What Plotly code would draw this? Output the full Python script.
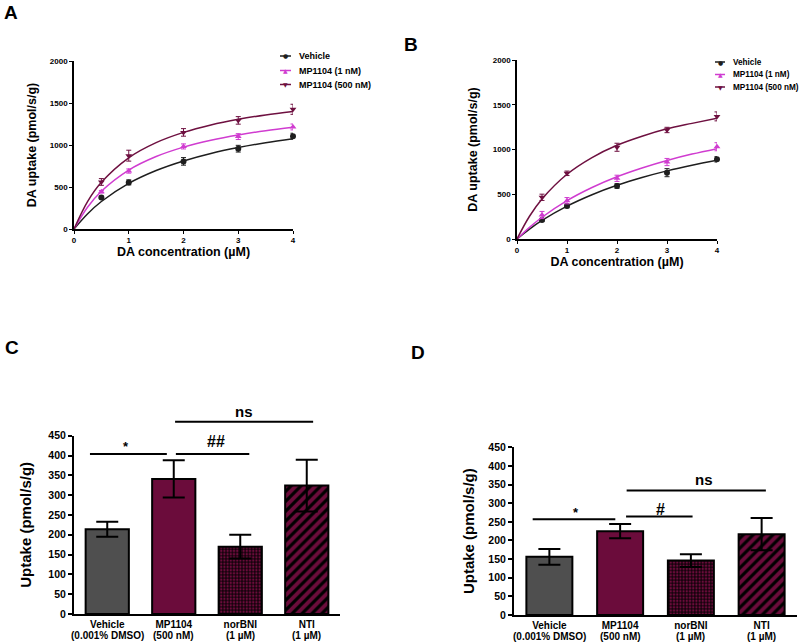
import plotly.graph_objects as go

# ---------------- data ----------------
conc = [0.5, 1, 2, 3, 4]
fit_conc = [0, 0.25, 0.5, 1, 1.5, 2, 2.5, 3, 3.5, 4]
series_names = ["Vehicle", "MP1104 (1 nM)", "MP1104 (500 nM)"]

# Panel A
a_vehicle = [376, 555, 805, 956, 1105]
a_vehicle_err = [15, 30, 45, 40, 35]
a_1nm = [444, 690, 983, 1100, 1215]
a_1nm_err = [15, 25, 30, 35, 35]
a_500nm = [560, 873, 1150, 1293, 1425]
a_500nm_err = [40, 65, 45, 45, 60]
a_vehicle_fit = [0, 182, 327, 543, 696, 810, 899, 969, 1027, 1075]
a_1nm_fit = [0, 262, 450, 702, 863, 975, 1057, 1120, 1170, 1210]
a_500nm_fit = [0, 329, 556, 848, 1028, 1150, 1239, 1306, 1358, 1400]

# Panel B
b_vehicle = [212, 369, 592, 741, 890]
b_vehicle_err = [15, 20, 25, 45, 30]
b_1nm = [268, 428, 678, 860, 1031]
b_1nm_err = [40, 35, 35, 40, 45]
b_500nm = [466, 734, 1025, 1218, 1370]
b_500nm_err = [35, 25, 45, 30, 50]
b_vehicle_fit = [0, 110, 207, 367, 495, 600, 687, 761, 824, 879]
b_1nm_fit = [0, 130, 243, 429, 576, 696, 794, 878, 949, 1010]
b_500nm_fit = [0, 254, 447, 723, 910, 1047, 1148, 1231, 1292, 1350]

# Panels C and D
bar_names = ["Vehicle", "MP1104", "norBNI", "NTI"]
bar_doses = ["(0.001% DMSO)", "(500 nM)", "(1 µM)", "(1 µM)"]
c_values = [214, 341, 170, 324]
c_err = [19, 47, 30, 65]
d_values = [156, 225, 146, 217]
d_err = [21, 19, 17, 43]

# ---------------- style ----------------
FONT = "Liberation Sans"
BLACK = "#1e1e1e"
MAGENTA = "#d03cd0"
MAROON = "#6e1040"
BAR_GRAY = "#4f4f4f"
BAR_MAROON = "#6b0c3b"
line_colors = [BLACK, MAGENTA, MAROON]
symbols = ["circle", "triangle-up", "triangle-down"]
glyphs = ["\u25CF", "\u25B2", "\u25BC"]
bar_fill = [BAR_GRAY, BAR_MAROON, BAR_MAROON, BAR_MAROON]
bar_pattern = ["", "", "+", "/"]
bar_pattern_size = [6, 6, 3.2, 7]
bar_pattern_solidity = [0.3, 0.3, 0.5, 0.45]

fig = go.Figure()


def add_curves(xa, ya, means, errs, fits):
    for i in range(3):
        fig.add_trace(go.Scatter(
            x=fit_conc, y=fits[i], mode="lines", line=dict(color=line_colors[i], width=1.5, shape="spline"),
            xaxis=xa, yaxis=ya, showlegend=False, hoverinfo="skip"))
        fig.add_trace(go.Scatter(
            x=conc, y=means[i], mode="markers", name=series_names[i],
            marker=dict(symbol=symbols[i], size=6, color=line_colors[i]),
            error_y=dict(type="data", array=errs[i], color=line_colors[i], thickness=1, width=2.5),
            xaxis=xa, yaxis=ya, showlegend=False, cliponaxis=False))


add_curves("x", "y", [a_vehicle, a_1nm, a_500nm], [a_vehicle_err, a_1nm_err, a_500nm_err],
           [a_vehicle_fit, a_1nm_fit, a_500nm_fit])
add_curves("x2", "y2", [b_vehicle, b_1nm, b_500nm], [b_vehicle_err, b_1nm_err, b_500nm_err],
           [b_vehicle_fit, b_1nm_fit, b_500nm_fit])

for xa, ya, vals, errs in [("x3", "y3", c_values, c_err), ("x4", "y4", d_values, d_err)]:
    for i in range(len(bar_names)):
        fig.add_trace(go.Bar(
            x=[bar_names[i]], y=[vals[i]], width=0.65, name=f"{bar_names[i]} {bar_doses[i]}",
            marker=dict(color=bar_fill[i], line=dict(color="black", width=2),
                        pattern=dict(shape=bar_pattern[i], fgcolor="black", bgcolor=bar_fill[i],
                                     size=bar_pattern_size[i], solidity=bar_pattern_solidity[i],
                                     fillmode="replace", fgopacity=1)),
            error_y=dict(type="data", array=[errs[i]], color="black", thickness=2, width=11),
            xaxis=xa, yaxis=ya, showlegend=False))

W, H = 800, 644


def px(x):
    return x / W


def py(y):
    return 1 - y / H


tickfont_small = dict(family=FONT, size=8, color="black", weight="bold")
tickfont_big = dict(family=FONT, size=10.5, color="black", weight="bold")
tickfont_cat = dict(family=FONT, size=10, color="black", weight="bold")

common = dict(showgrid=False, zeroline=False, showline=True, linecolor="black",
              tickcolor="black", automargin=False)

fig.update_layout(
    width=W, height=H, margin=dict(l=0, r=0, t=0, b=0, autoexpand=False),
    paper_bgcolor="white", plot_bgcolor="white", barmode="overlay",
    font=dict(family=FONT, color="black"),
    xaxis=dict(domain=[px(74), px(293)], range=[0, 4], tickvals=[0, 1, 2, 3, 4], anchor="y",
               ticks="outside", linewidth=1.5, ticklen=3, tickwidth=1.2, tickfont=tickfont_small,
               title=dict(text="DA concentration (µM)", font=dict(family=FONT, size=12.5, weight="bold"), standoff=3),
               **common),
    yaxis=dict(domain=[py(229), py(61)], range=[0, 2000], tickvals=[0, 500, 1000, 1500, 2000], anchor="x",
               ticks="outside", linewidth=1.5, ticklen=3, tickwidth=1.2, tickfont=tickfont_small,
               title=dict(text="DA uptake (pmol/s/g)", font=dict(family=FONT, size=12.5, weight="bold"), standoff=10),
               **common),
    xaxis2=dict(domain=[px(517), px(717)], range=[0, 4], tickvals=[0, 1, 2, 3, 4], anchor="y2",
                ticks="outside", linewidth=1.5, ticklen=3, tickwidth=1.2, tickfont=tickfont_small,
                title=dict(text="DA concentration (µM)", font=dict(family=FONT, size=12.5, weight="bold"), standoff=1),
                **common),
    yaxis2=dict(domain=[py(239), py(60)], range=[0, 2000], tickvals=[0, 500, 1000, 1500, 2000], anchor="x2",
                ticks="outside", linewidth=1.5, ticklen=3, tickwidth=1.2, tickfont=tickfont_small,
                title=dict(text="DA uptake (pmol/s/g)", font=dict(family=FONT, size=12.5, weight="bold"), standoff=12),
                **common),
    xaxis3=dict(domain=[px(74), px(340)], anchor="y3", type="category", categoryorder="array",
                categoryarray=bar_names, range=[-0.5, 3.5], ticks="",
                linewidth=2, tickfont=tickfont_cat, **common),
    yaxis3=dict(domain=[py(614), py(435.7)], range=[0, 450], dtick=50, anchor="x3",
                ticks="outside", linewidth=2, ticklen=4, tickwidth=1.5, tickfont=tickfont_big,
                title=dict(text="Uptake (pmol/s/g)", font=dict(family=FONT, size=15, weight="bold"), standoff=13),
                **common),
    xaxis4=dict(domain=[px(514), px(797)], anchor="y4", type="category", categoryorder="array",
                categoryarray=bar_names, range=[-0.5, 3.5], ticks="",
                linewidth=2, tickfont=tickfont_cat, **common),
    yaxis4=dict(domain=[py(615), py(447.3)], range=[0, 450], dtick=50, anchor="x4",
                ticks="outside", linewidth=2, ticklen=4, tickwidth=1.5, tickfont=tickfont_big,
                title=dict(text="Uptake (pmol/s/g)", font=dict(family=FONT, size=15, weight="bold"), standoff=10),
                **common),
)

# second line of the category labels (doses)
for xa, ydose in [("x3", 635.5), ("x4", 636)]:
    for name, dose in zip(bar_names, bar_doses):
        fig.add_annotation(text=dose, x=name, y=py(ydose), xref=xa, yref="paper",
                           showarrow=False, xanchor="center", yanchor="middle",
                           font=tickfont_cat)

# panel letters
for letter, x, y in [("A", 11, 12), ("B", 411, 45), ("C", 12, 347), ("D", 418, 352)]:
    fig.add_annotation(text=letter, x=px(x), y=py(y), xref="paper", yref="paper",
                       showarrow=False, xanchor="center", yanchor="middle",
                       font=dict(family=FONT, size=19, weight="bold", color="black"))

# manual legends (A and B)
legend_specs = [
    (280, 291, 297, [56, 70.5, 84.5], 9),
    (715, 725, 731, [62, 74.5, 87], 8.2),
]
for x0, x1, xt, rows, fs in legend_specs:
    for i, name in enumerate(series_names):
        yy = py(rows[i])
        fig.add_shape(type="line", x0=px(x0), x1=px(x1), y0=yy, y1=yy, xref="paper", yref="paper",
                      line=dict(color=line_colors[i], width=1.5))
        fig.add_annotation(text=glyphs[i], x=px((x0 + x1) / 2), y=yy, xref="paper", yref="paper",
                           showarrow=False, xanchor="center", yanchor="middle",
                           font=dict(family="DejaVu Sans", size=6, color=line_colors[i]))
        fig.add_annotation(text=name, x=px(xt), y=yy, xref="paper", yref="paper",
                           showarrow=False, xanchor="left", yanchor="middle",
                           font=dict(family=FONT, size=fs, weight="bold", color="black"))

# significance brackets (x in axis-domain fraction, y in value units / 450)
YMAX = 450
c_sig = [  # (x0, x1, y_line, label, x_label, y_label, size)
    (0.060, 0.349, 404, "*", 0.195, 424, 13),
    (0.383, 0.659, 404, "##", 0.534, 436, 16),
    (0.380, 0.899, 485, "ns", 0.639, 510, 15),
]
d_sig = [
    (0.066, 0.358, 257, "*", 0.219, 274, 13),
    (0.396, 0.631, 264, "#", 0.518, 284, 16),
    (0.398, 0.890, 334, "ns", 0.671, 364, 15),
]
for xa, ya, sig in [("x3", "y3", c_sig), ("x4", "y4", d_sig)]:
    for x0, x1, yl, lab, xl, ylab, fs in sig:
        fig.add_shape(type="line", x0=x0, x1=x1, y0=yl / YMAX, y1=yl / YMAX,
                      xref=f"{xa} domain", yref=f"{ya} domain", line=dict(color="black", width=2))
        fig.add_annotation(text=lab, x=xl, y=ylab / YMAX, xref=f"{xa} domain", yref=f"{ya} domain",
                           showarrow=False, xanchor="center", yanchor="middle",
                           font=dict(family=FONT, size=fs, weight="bold", color="black"))

fig.write_html("out.html", config={"displayModeBar": False},
               post_script="document.body.style.margin='0';document.body.style.overflow='hidden';")
